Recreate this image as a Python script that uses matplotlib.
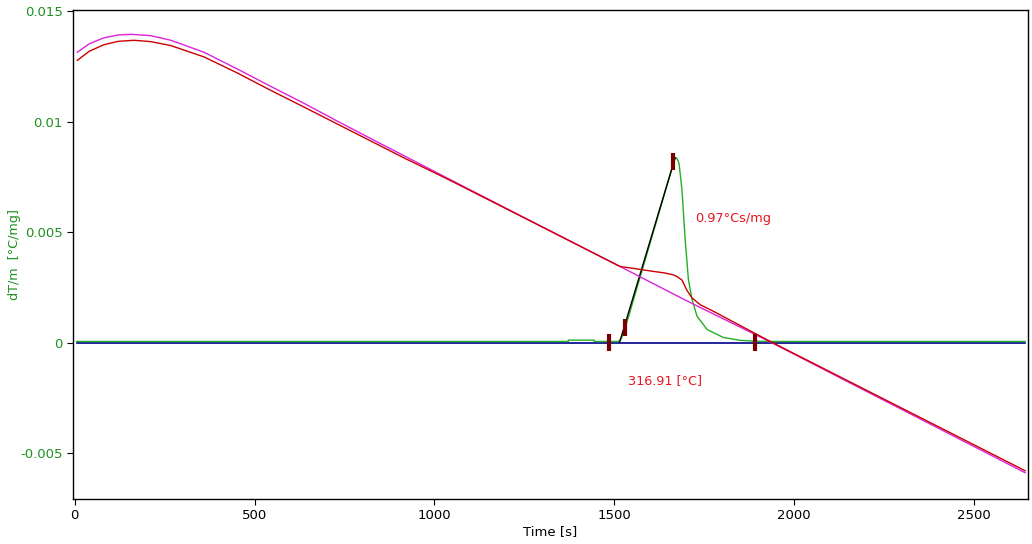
import matplotlib
matplotlib.use('Agg')
import matplotlib.pyplot as plt

# time axis [s] and curves dT/m [°C/mg]
mag_t = [7, 40, 81, 120, 156, 211, 267, 359, 452, 544, 637, 730, 822, 915, 1035,
         1250, 1521, 1700, 1937, 2200, 2642]
mag_y = [0.01314, 0.01352, 0.01379, 0.01392, 0.01395, 0.01389, 0.01368, 0.01314,
         0.01238, 0.01160, 0.01083, 0.01002, 0.00924, 0.00846, 0.00745,
         0.00565, 0.00340, 0.00190, 0.00000, -0.00220, -0.00589]

red_t = [7, 40, 81, 120, 165, 211, 267, 359, 452, 544, 637, 730, 822, 915, 1035,
         1250, 1515, 1521, 1560, 1600, 1640, 1665, 1674, 1688, 1702, 1716, 1739,
         1776, 1937, 2200, 2642]
red_y = [0.01277, 0.01318, 0.01348, 0.01363, 0.01368, 0.01362, 0.01344, 0.01293,
         0.01220, 0.01142, 0.01066, 0.00989, 0.00913, 0.00836, 0.00741,
         0.00564, 0.00345, 0.00343, 0.00334, 0.00324, 0.00315, 0.00306, 0.00299,
         0.00283, 0.00236, 0.00202, 0.00171, 0.00141, 0.00002, -0.00215, -0.00580]

green_t = [5, 1372, 1372, 1444, 1444, 1512, 1520, 1531, 1560, 1600, 1640, 1660,
           1669, 1674, 1680, 1688, 1697, 1706, 1716, 1730, 1758, 1803, 1850,
           1897, 1950, 2642]
green_y = [0.00005, 0.00005, 0.00011, 0.00011, 0.00005, 0.00005, 0.00020, 0.00070,
           0.00231, 0.00453, 0.00675, 0.00786, 0.00836, 0.00835, 0.00810, 0.00692,
           0.00466, 0.00285, 0.00195, 0.00119, 0.00059, 0.00023, 0.00010,
           0.00006, 0.00005, 0.00005]

base_t = [5, 2642]
base_y = [0, 0]

tang_t = [1515, 1669]
tang_y = [0.00003, 0.00836]

mark_t = [1486, 1531, 1664, 1892]
mark_y = [0.0, 0.00068, 0.00818, 0.0]

yticks = [0.015, 0.01, 0.005, 0, -0.005]
ytick_labels = ['0.015', '0.01', '0.005', '0', '-0.005']
xticks = [0, 500, 1000, 1500, 2000, 2500]

green = '#1f8f1f'
txt_red = '#e8141e'

fig = plt.figure(figsize=(10.32, 5.44), dpi=100)
ax = fig.add_axes([0.0707, 0.0827, 0.9254, 0.8989])

ax.plot(base_t, base_y, color='#00008c', lw=1.2)
ax.plot(green_t, green_y, color='#22b022', lw=1)
ax.plot(tang_t, tang_y, color='black', lw=1)
ax.plot(mag_t, mag_y, color='#dd22dd', lw=1)
ax.plot(red_t, red_y, color='#cc0000', lw=1)

h = 0.00039
for t, y in zip(mark_t, mark_y):
    ax.vlines(t, y - h, y + h, color='#7a0000', lw=3)

ax.text(1725, 0.00561, '0.97°Cs/mg', color=txt_red, fontsize=9.3, va='center')
ax.text(1539, -0.00172, '316.91 [°C]', color=txt_red, fontsize=9.2, va='center')

ax.set_xlim(-5, 2650)
ax.set_ylim(-0.00708, 0.01505)
ax.set_xticks(xticks)
ax.set_yticks(yticks)
ax.set_yticklabels(ytick_labels)
ax.tick_params(axis='y', colors='black', labelcolor=green, labelsize=9.5, length=4)
ax.tick_params(axis='x', labelsize=9.5, length=4)
ax.set_xlabel('Time [s]', fontsize=9.5, labelpad=2)
ax.set_ylabel('dT/m  [°C/mg]', fontsize=9.2, color=green)
ax.yaxis.set_label_coords(-0.054, 0.5)
for s in ax.spines.values():
    s.set_linewidth(1)

fig.savefig('out.png', dpi=100)
